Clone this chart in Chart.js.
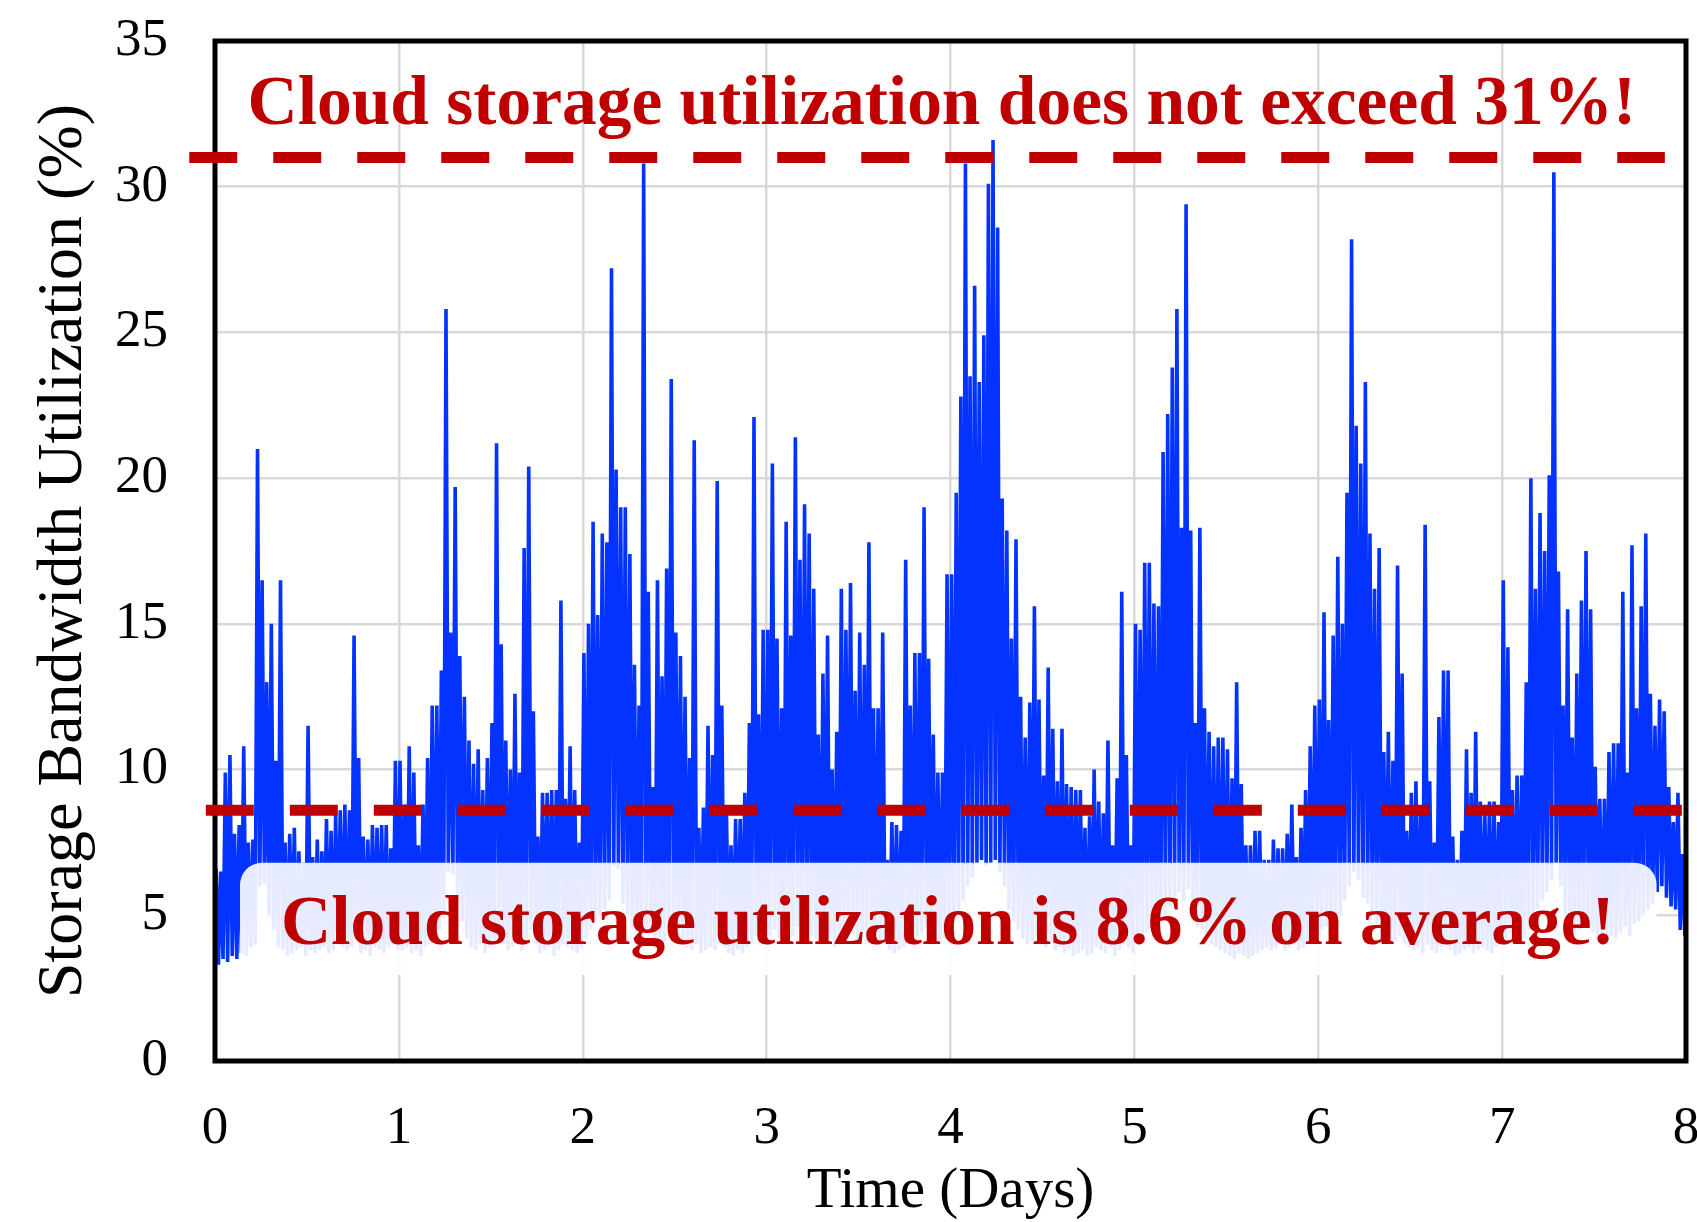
<!DOCTYPE html>
<html>
<head>
<meta charset="utf-8">
<title>Storage Bandwidth Utilization</title>
<script src="https://cdn.jsdelivr.net/npm/chart.js@4.4.0/dist/chart.umd.min.js"></script>
<style>
  html, body { margin: 0; padding: 0; background: #fff; }
  canvas { display: block; }
</style>
</head>
<body>
<canvas id="util" width="1697" height="1222"></canvas>
<script>
// Utilization samples, 40 bins per day. Each bin keeps its peak and its trough (%).
const BINS_PER_DAY = 40;
const binPeaks = [
  6.6, 6.5, 9.9, 10.5, 7.8, 8.1, 10.8, 7.5, 7.6, 21.0, 16.5, 13.0, 15.0, 10.3, 16.5, 7.5, 7.8, 8.0, 7.2, 6.8, 11.5, 7.0, 7.6, 7.2, 8.3, 7.9, 8.5, 8.6, 8.8, 8.6, 14.6, 10.4, 7.7, 7.6, 8.1, 8.0, 8.1, 8.1, 7.3, 10.3,          // day 0
  10.3, 8.8, 10.8, 9.9, 7.4, 8.8, 10.4, 12.2, 12.2, 13.4, 25.8, 14.7, 19.7, 13.9, 12.5, 11.0, 10.2, 10.7, 9.3, 10.4, 11.6, 21.2, 14.3, 11.0, 10.0, 12.6, 9.9, 17.6, 20.4, 12.0, 7.7, 9.2, 9.2, 9.3, 9.3, 15.8, 9.0, 10.8, 9.3, 7.5, // day 1
  14.0, 15.0, 18.5, 15.3, 18.1, 17.8, 27.2, 20.3, 19.0, 19.0, 17.4, 13.6, 12.2, 30.8, 16.1, 9.4, 16.5, 13.2, 16.9, 23.4, 14.7, 13.9, 12.5, 10.4, 21.3, 8.0, 8.7, 11.5, 10.5, 19.9, 12.2, 8.6, 7.4, 8.3, 8.3, 9.2, 11.6, 22.1, 11.9, 14.8, // day 2
  14.8, 20.5, 14.5, 12.1, 18.5, 14.6, 21.4, 17.2, 19.1, 18.1, 16.2, 11.2, 13.3, 14.6, 10.0, 11.3, 16.2, 14.8, 16.4, 12.7, 14.7, 13.6, 17.8, 12.1, 12.1, 14.7, 6.9, 8.2, 8.1, 7.9, 17.2, 12.2, 14.0, 14.0, 19.0, 13.8, 11.2, 9.9, 9.9, 16.7, // day 3
  16.7, 19.5, 22.8, 30.8, 23.5, 26.6, 23.3, 24.9, 30.1, 31.6, 28.6, 19.3, 18.2, 14.5, 17.9, 12.5, 11.1, 12.3, 15.6, 12.4, 9.8, 13.5, 11.4, 9.6, 11.4, 9.5, 9.4, 9.3, 9.3, 8.0, 8.4, 10.0, 8.9, 8.5, 11.0, 7.4, 9.7, 16.1, 10.5, 7.4,  // day 4
  15.0, 14.8, 17.1, 17.1, 15.7, 15.6, 20.9, 22.2, 23.8, 25.8, 18.3, 29.4, 18.2, 11.6, 18.3, 12.1, 11.3, 10.8, 11.1, 11.1, 10.7, 9.7, 13.0, 9.5, 7.4, 7.4, 7.9, 7.9, 6.9, 6.9, 7.6, 7.3, 7.3, 7.8, 8.8, 7.0, 8.0, 9.3, 10.8, 12.2,    // day 5
  12.4, 15.4, 11.7, 14.6, 17.3, 15.0, 19.5, 28.2, 21.8, 20.5, 23.3, 18.1, 16.2, 17.6, 10.6, 11.3, 10.3, 17.0, 13.3, 7.9, 9.2, 9.6, 8.5, 18.4, 9.6, 7.5, 11.8, 13.4, 13.4, 7.7, 6.9, 7.9, 10.7, 9.2, 11.3, 8.9, 8.5, 8.9, 8.9, 8.2,    // day 6
  16.5, 14.2, 9.3, 9.8, 9.8, 13.0, 20.0, 16.2, 18.8, 17.5, 20.1, 30.5, 16.8, 12.2, 15.5, 11.1, 13.3, 15.8, 17.5, 15.5, 10.1, 9.0, 9.0, 10.6, 10.9, 10.9, 16.1, 9.9, 17.7, 12.1, 15.6, 18.1, 12.6, 11.5, 12.4, 12.0, 9.4, 8.2, 9.2, 7.1 // day 7
];
const binTroughs = [
  3.3, 3.5, 3.4, 3.6, 3.5, 3.7, 3.6, 3.9, 4.0, 6.0, 6.1, 5.0, 4.5, 3.9, 3.8, 3.6, 3.7, 3.8, 3.9, 3.6, 3.8, 3.7, 3.8, 3.9, 3.7, 3.8, 4.0, 3.9, 3.8, 3.9, 4.2, 3.7, 3.8, 3.6, 3.9, 3.8, 3.7, 3.9, 4.0, 3.8, // day 0
  3.8, 3.9, 3.7, 3.8, 3.6, 3.9, 4.0, 4.2, 4.5, 5.0, 6.5, 6.4, 5.5, 4.8, 4.2, 3.9, 3.8, 4.0, 3.7, 3.9, 4.1, 4.3, 4.0, 3.8, 3.9, 4.0, 3.8, 4.2, 4.5, 4.0, 3.7, 3.8, 3.9, 3.6, 3.8, 4.0, 3.9, 3.8, 3.7, 3.9, // day 1
  4.2, 4.5, 4.8, 5.0, 5.2, 5.5, 6.7, 6.6, 5.4, 5.0, 4.6, 4.2, 4.0, 4.4, 4.5, 4.0, 4.2, 4.1, 4.3, 4.6, 4.2, 4.0, 3.9, 3.8, 4.0, 3.7, 3.8, 3.9, 3.8, 4.0, 3.9, 3.7, 3.6, 3.8, 3.7, 3.9, 4.0, 4.3, 4.1, 4.2, // day 2
  4.3, 4.5, 4.2, 4.1, 4.4, 4.3, 4.6, 4.4, 4.5, 4.3, 4.2, 4.0, 4.1, 4.2, 3.9, 4.0, 4.3, 4.2, 4.4, 4.1, 4.2, 4.0, 4.3, 4.1, 4.0, 4.2, 3.8, 3.7, 3.8, 3.9, 4.2, 4.1, 4.3, 4.4, 4.6, 4.3, 4.1, 4.0, 4.2, 4.5, // day 3
  4.8, 5.0, 5.5, 6.0, 6.3, 6.8, 6.9, 6.7, 6.8, 6.9, 6.5, 6.0, 5.2, 4.8, 4.5, 4.2, 4.0, 4.1, 4.3, 4.0, 3.9, 4.1, 3.8, 3.9, 3.7, 3.8, 3.6, 3.7, 3.8, 3.6, 3.7, 3.9, 3.8, 3.7, 3.9, 3.6, 3.8, 4.0, 3.9, 3.7, // day 4
  4.0, 4.2, 4.4, 4.6, 4.5, 4.7, 5.0, 5.3, 5.6, 5.8, 5.5, 5.9, 5.2, 4.6, 4.5, 4.2, 4.0, 3.9, 3.8, 3.7, 3.6, 3.5, 3.7, 3.6, 3.5, 3.6, 3.7, 3.8, 3.9, 3.8, 3.9, 4.0, 3.8, 3.9, 4.0, 3.8, 3.9, 4.1, 4.2, 4.4, // day 5
  4.5, 4.6, 4.4, 4.8, 5.0, 5.5, 6.0, 6.5, 6.2, 5.6, 5.4, 5.0, 4.6, 4.4, 4.2, 4.0, 4.1, 4.3, 4.0, 3.9, 3.8, 3.9, 3.7, 4.0, 3.8, 3.7, 3.9, 4.0, 3.8, 3.6, 3.7, 3.8, 3.9, 3.7, 3.8, 3.9, 3.8, 3.7, 3.9, 4.0, // day 6
  4.2, 4.4, 4.1, 4.0, 4.2, 4.5, 4.8, 5.2, 5.5, 5.8, 6.2, 6.8, 6.0, 5.0, 4.6, 4.3, 4.5, 4.8, 4.6, 4.4, 4.2, 4.0, 4.1, 4.3, 4.2, 4.4, 4.6, 4.3, 4.7, 4.8, 5.0, 5.2, 5.4, 5.8, 6.0, 5.6, 5.3, 5.2, 4.5, 4.3  // day 7
];

// Reference levels (%) and the span (days) each dashed line covers
const peakLevel = 31;
const meanLevel = 8.6;
const peakLineSpan = [-0.14, 7.885];
const meanLineSpan = [-0.05, 8.0];

const peakNote = 'Cloud storage utilization does not exceed 31%!';
const meanNote = 'Cloud storage utilization is 8.6% on average!';

const xTitle = 'Time (Days)';
const yTitle = 'Storage Bandwidth Utilization (%)';

// callout placement, in axis units
const calloutDays = [0.136, 7.84];
const calloutLevels = [2.95, 6.8];
const peakNoteAt = { day: 3.953, level: 32.15, widthDays: 7.553 };
const meanNoteAt = { day: 3.986, level: 4.0, widthDays: 7.254 };

const SERIF = "'Liberation Serif', 'Times New Roman', serif";
const NOTE_RED = '#c00000';
const LINE_BLUE = '#0433ff';

// build the zig-zag trace: peak then trough inside every bin
const trace = [];
binPeaks.forEach((peak, i) => {
  const start = i / BINS_PER_DAY;
  trace.push({ x: start + 0.25 / BINS_PER_DAY, y: peak });
  trace.push({ x: start + 0.75 / BINS_PER_DAY, y: binTroughs[i] });
});

function levelLine(level, span) {
  return span.map(d => ({ x: d, y: level }));
}

function fitText(ctx, text, weight, targetWidth) {
  ctx.font = `${weight} 100px ${SERIF}`;
  const size = 100 * targetWidth / ctx.measureText(text).width;
  ctx.font = `${weight} ${size.toFixed(2)}px ${SERIF}`;
}

const overlay = {
  id: 'overlay',
  afterDatasetDraw(chart, args) {
    // frame goes over the trace but under the dashed reference lines
    if (args.index !== 2) return;
    const { ctx, chartArea: a } = chart;
    ctx.save();
    ctx.strokeStyle = '#000';
    ctx.lineWidth = 5;
    ctx.strokeRect(a.left, a.top, a.right - a.left, a.bottom - a.top);
    ctx.restore();
  },
  afterDraw(chart) {
    const { ctx } = chart;
    const xs = chart.scales.x, ys = chart.scales.y;

    // translucent callout behind the average note
    const left = xs.getPixelForValue(calloutDays[0]);
    const right = xs.getPixelForValue(calloutDays[1]);
    const top = ys.getPixelForValue(calloutLevels[1]);
    const bottom = ys.getPixelForValue(calloutLevels[0]);
    ctx.save();
    ctx.fillStyle = 'rgba(255,255,255,0.9)';
    ctx.beginPath();
    ctx.roundRect(left, top, right - left, bottom - top, 22);
    ctx.fill();

    ctx.fillStyle = NOTE_RED;
    ctx.textAlign = 'center';
    ctx.textBaseline = 'alphabetic';
    [[peakNote, peakNoteAt], [meanNote, meanNoteAt]].forEach(([text, at]) => {
      const w = xs.getPixelForValue(at.widthDays) - xs.getPixelForValue(0);
      fitText(ctx, text, 'bold', w);
      ctx.fillText(text, xs.getPixelForValue(at.day), ys.getPixelForValue(at.level));
    });
    ctx.restore();
  }
};

const grid = { color: '#d9d9d9', lineWidth: 2.5, drawTicks: false };

new Chart(document.getElementById('util'), {
  type: 'line',
  data: {
    datasets: [
      {
        data: levelLine(peakLevel, peakLineSpan),
        borderColor: NOTE_RED, borderWidth: 11, borderDash: [48, 36],
        pointRadius: 0, clip: false
      },
      {
        data: levelLine(meanLevel, meanLineSpan),
        borderColor: NOTE_RED, borderWidth: 11, borderDash: [48, 36],
        pointRadius: 0, clip: false
      },
      {
        data: trace,
        borderColor: LINE_BLUE, borderWidth: 3.6, borderJoinStyle: 'bevel',
        pointRadius: 0, tension: 0
      }
    ]
  },
  options: {
    responsive: false,
    animation: false,
    devicePixelRatio: 1,
    parsing: false,
    layout: { padding: { left: 0, right: 11, top: 41, bottom: 0 } },
    plugins: { legend: { display: false }, tooltip: { enabled: false } },
    scales: {
      x: {
        type: 'linear', min: 0, max: 8,
        grid: grid,
        border: { display: false },
        ticks: { stepSize: 1, padding: 36, color: '#000', font: { family: SERIF, size: 53 } },
        title: { display: true, text: xTitle, color: '#000', padding: { top: 0, bottom: 1 },
                 font: { family: SERIF, size: 57, lineHeight: 1 } },
        afterFit(scale) {
          scale.height = 161;
          scale.paddingLeft = 0;
          scale.paddingRight = 0;
        }
      },
      y: {
        min: 0, max: 35,
        grid: grid,
        border: { display: false },
        ticks: { stepSize: 5, padding: 47, color: '#000', font: { family: SERIF, size: 53 } },
        title: { display: true, text: yTitle, color: '#000', padding: { top: 32, bottom: 0 },
                 font: { family: SERIF, size: 64, lineHeight: 1 } },
        afterFit(scale) {
          scale.width = 215;
          scale.paddingTop = 0;
          scale.paddingBottom = 0;
        }
      }
    }
  },
  plugins: [overlay]
});
</script>
</body>
</html>
